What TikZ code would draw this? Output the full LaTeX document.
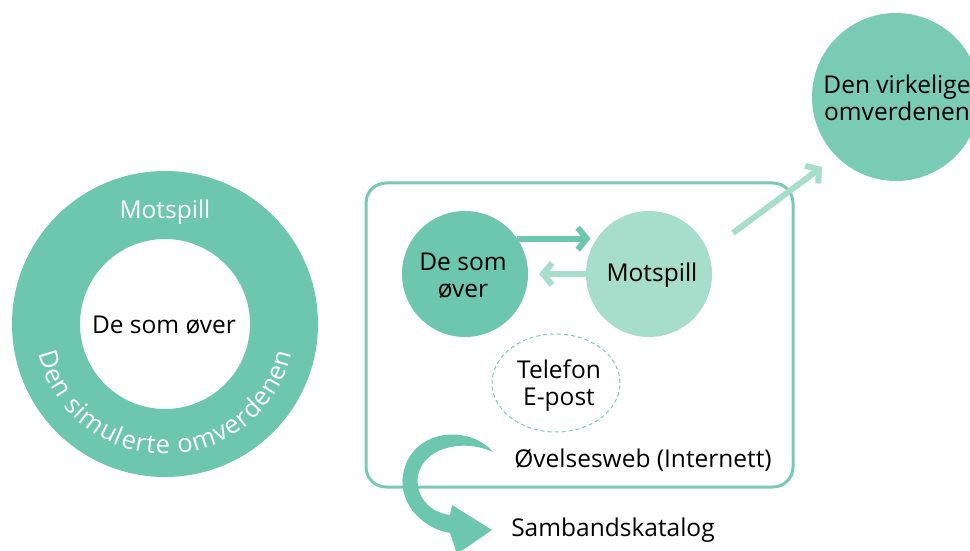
\documentclass[tikz,border=0pt]{standalone}
\usepackage{fontspec}
\setmainfont{Open Sans}
\usetikzlibrary{arrows.meta,decorations.text,calc}
\definecolor{tealdark}{HTML}{6DC6AE}
\definecolor{teallight}{HTML}{A6DDCB}
\definecolor{tealbig}{HTML}{7ACBB4}
\definecolor{tealline}{HTML}{78CAB4}
\tikzset{
  lbl/.style={font=\fontsize{24.5}{27}\selectfont, text=black, align=center, inner sep=0pt},
  disc/.style={circle, inner sep=0pt, draw=none},
  flowarrow/.style={line width=6pt, -{Straight Barb[length=9pt,width=22pt]}},
}
\begin{document}
\begin{tikzpicture}[x=1pt,y=1pt]
\useasboundingbox (0,0) rectangle (970,550);
% ring
\fill[tealdark, even odd rule] (165,226) circle[radius=153] (165,226) circle[radius=85];
\node[lbl] (ringin) at (164,225) {De som øver};
\node[lbl, text=white] (ringtop) at (165,338) {Motspill};
\begin{scope}[execute at begin scope={\fontsize{25.5}{26}\selectfont}]
\path[decorate, decoration={text effects along path, text={Den simulerte omverdenen}, text align=center,
  text effects/.cd, text along path, character widths={inner xsep=0.5pt},
  characters={text=white}}]
  (165,226) ++(186:130) arc[start angle=186, end angle=354, radius=130];
\end{scope}
% box
\draw[tealline, line width=3pt, rounded corners=20pt] (366,63) rectangle (793,367);
\node[disc, fill=tealdark, minimum size=126pt] (dso) at (465,276) {};
\node[lbl] at (463,274) {De som\\øver};
\node[disc, fill=teallight, minimum size=126pt] (mot) at (649,276) {};
\node[lbl] at (652,275) {Motspill};
\draw[flowarrow, tealdark, shorten >=6pt] (dso.34) -- (mot.146);
\draw[flowarrow, teallight, shorten >=11pt] (mot.west) -- (dso.east);
\draw[tealline, line width=1pt, dash pattern=on 4pt off 3pt] (556,167) ellipse[x radius=64, y radius=49];
\node[lbl] (tel) at (559,164) {Telefon\\E-post};
\node[lbl] (web) at (643,90) {Øvelsesweb (Internett)};
% big circle
\node[disc, fill=tealbig, minimum size=168pt] (big) at (896,453) {};
\node[lbl] at (897,452) {Den virkelige\\omverdenen};
\coordinate (ds) at (733,317);
\coordinate (de) at (822,383);
\draw[line width=6pt, teallight, -{Straight Barb[length=9pt,width=22pt]}] (ds) -- (de);
% curved arrow
\fill[tealdark] (493,98) .. controls (470,125) and (415,122) .. (404,80)
  .. controls (396,50) and (420,22) .. (450,17) -- (457,-4) -- (492,20) -- (452,45) -- (450,35)
  .. controls (428,38) and (415,55) .. (418,75)
  .. controls (424,102) and (462,112) .. (493,98) -- cycle;
\node[lbl] (samb) at (613,20) {Sambandskatalog};
\end{tikzpicture}
\end{document}
